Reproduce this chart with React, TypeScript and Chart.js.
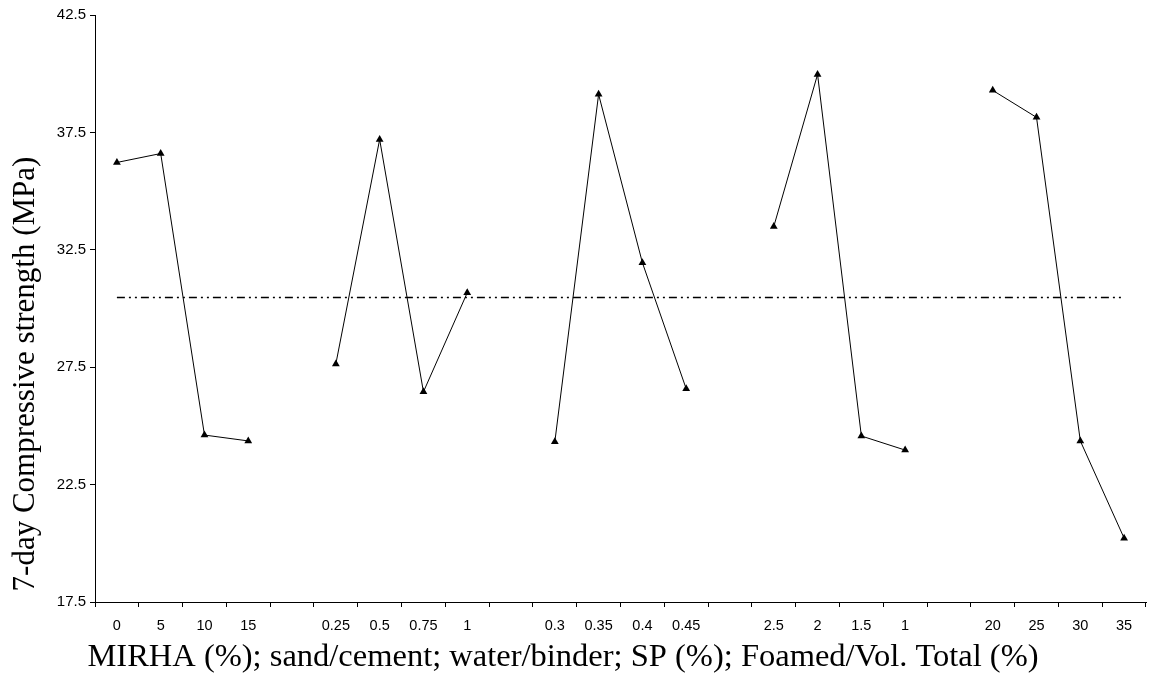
import React, { useEffect, useRef } from "react";
import { Chart, registerables } from "chart.js";

Chart.register(...registerables);

const categories = [
  "0", "5", "10", "15", "",
  "0.25", "0.5", "0.75", "1", "",
  "0.3", "0.35", "0.4", "0.45", "",
  "2.5", "2", "1.5", "1", "",
  "20", "25", "30", "35",
];

const strength: (number | null)[] = [
  36.22, 36.6, 24.61, 24.36, null,
  27.64, 37.2, 26.45, 30.67, null,
  24.32, 39.12, 31.95, 26.58, null,
  33.49, 39.97, 24.57, 23.97, null,
  39.29, 38.14, 24.36, 20.22,
];

const meanStrength = 30.47;
const meanLine = categories.map(() => meanStrength);

const yTicks = [17.5, 22.5, 27.5, 32.5, 37.5, 42.5];

const xTitle = "MIRHA (%); sand/cement; water/binder; SP (%); Foamed/Vol. Total (%)";
const yTitle = "7-day Compressive strength (MPa)";

export default function App() {
  const ref = useRef<HTMLCanvasElement | null>(null);

  useEffect(() => {
    if (!ref.current) return;
    const titlePlugin = {
      id: "axisTitles",
      afterDraw(chart: any) {
        const ctx = chart.ctx;
        ctx.save();
        ctx.fillStyle = "#000";
        ctx.font = '32.5px "Liberation Serif"';
        ctx.textAlign = "center";
        ctx.textBaseline = "alphabetic";
        ctx.fillText(xTitle, 563, 666);
        ctx.translate(34, 374);
        ctx.rotate(-Math.PI / 2);
        ctx.font = '31px "Liberation Serif"';
        ctx.fillText(yTitle, 0, 0);
        ctx.restore();
      },
    };
    const chart = new Chart(ref.current, {
      type: "line",
      data: {
        labels: categories,
        datasets: [
          {
            label: "strength",
            data: strength,
            borderColor: "#000",
            backgroundColor: "#000",
            borderWidth: 1,
            pointStyle: "triangle",
            pointRadius: 4.5,
            pointBackgroundColor: "#000",
            pointBorderColor: "#000",
            pointBorderWidth: 0,
            spanGaps: false,
            tension: 0,
          },
          {
            label: "mean",
            data: meanLine,
            borderColor: "#000",
            borderWidth: 1.5,
            borderDash: [8, 4, 2, 4, 2, 4],
            pointRadius: 0,
            tension: 0,
          },
        ],
      },
      options: {
        responsive: false,
        animation: false,
        layout: { padding: { left: 0, right: 7, top: 15, bottom: 0 } },
        plugins: {
          legend: { display: false },
          tooltip: { enabled: false },
          title: { display: false },
        },
        scales: {
          x: {
            type: "category",
            offset: true,
            grid: {
              display: true,
              offset: true,
              drawOnChartArea: false,
              drawTicks: true,
              tickLength: 5,
              color: "#000",
            },
            border: { display: true, color: "#000", width: 1 },
            ticks: {
              color: "#000",
              font: { family: '"Liberation Sans"', size: 14.5 },
              padding: 10,
              maxRotation: 0,
              autoSkip: false,
            },
            afterFit(scale: any) {
              scale.height = 79;
            },
          },
          y: {
            type: "linear",
            min: 17.5,
            max: 42.5,
            afterBuildTicks(scale: any) {
              scale.ticks = yTicks.map((v) => ({ value: v }));
            },
            grid: {
              display: true,
              drawOnChartArea: false,
              drawTicks: true,
              tickLength: 5,
              color: "#000",
            },
            border: { display: true, color: "#000", width: 1 },
            ticks: {
              color: "#000",
              font: { family: '"Liberation Sans"', size: 15 },
              padding: 4,
              callback: (v: any) => Number(v).toFixed(1),
            },
            afterFit(scale: any) {
              scale.width = 95;
            },
          },
        },
      },
      plugins: [titlePlugin],
    });
    return () => chart.destroy();
  }, []);

  return (
    <div style={{ position: "fixed", left: 0, top: 0, width: 1153, height: 681, background: "#fff" }}>
      <canvas ref={ref} width={1153} height={681} style={{ width: 1153, height: 681, display: "block" }} />
    </div>
  );
}
